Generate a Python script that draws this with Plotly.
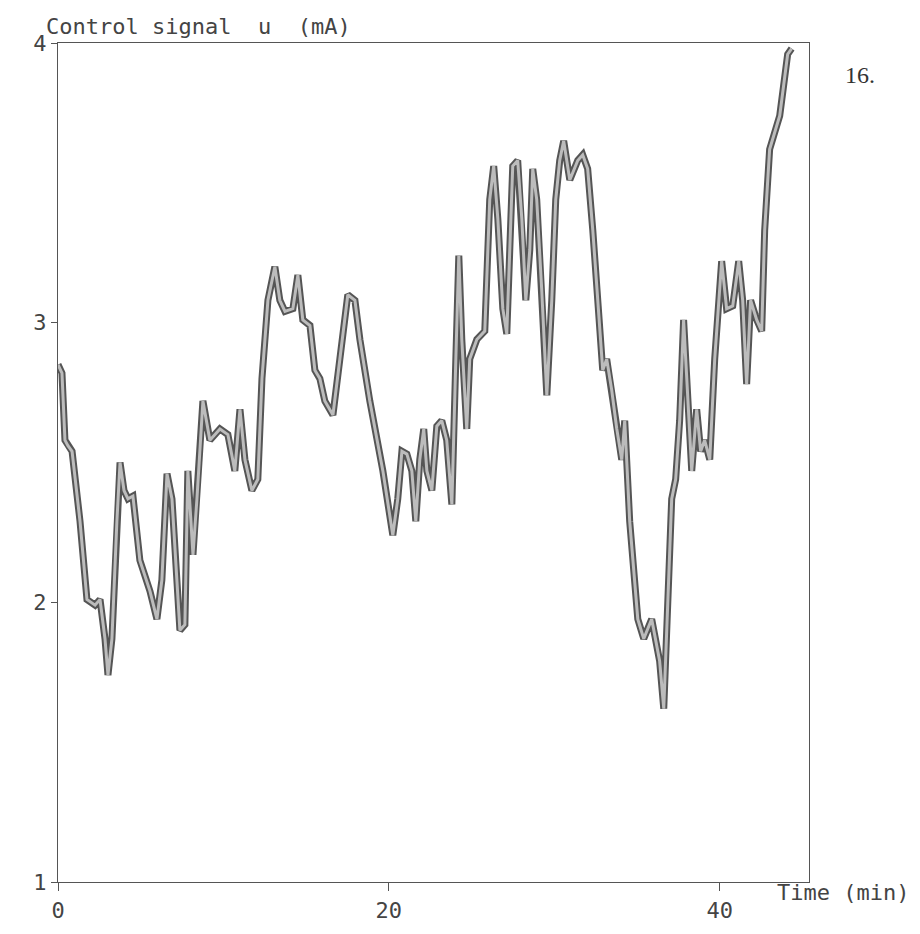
import plotly.graph_objects as go

# Time (min) and control signal u (mA)
time_min = [0.00, 0.24, 0.42, 0.60, 0.85, 1.33, 1.75, 2.24, 2.54, 2.84, 3.02, 3.26, 3.56, 3.75, 3.99,
            4.23, 4.53, 4.95, 5.56, 5.98, 6.28, 6.59, 6.89, 7.13, 7.37, 7.67, 7.85, 8.16, 8.40, 8.76,
            9.18, 9.79, 10.27, 10.69, 11.00, 11.30, 11.72, 12.08, 12.33, 12.69, 13.11, 13.41, 13.72,
            14.20, 14.50, 14.80, 15.23, 15.53, 15.83, 16.13, 16.62, 17.04, 17.52, 17.95, 18.25, 18.85,
            19.64, 20.24, 20.54, 20.79, 21.09, 21.39, 21.63, 21.87, 22.11, 22.30, 22.60, 22.90, 23.20,
            23.50, 23.81, 24.05, 24.23, 24.41, 24.59, 24.71, 24.89, 25.32, 25.80, 26.10, 26.34, 26.59,
            26.89, 27.13, 27.31, 27.49, 27.79, 28.04, 28.28, 28.52, 28.70, 28.94, 29.24, 29.55, 29.85,
            30.09, 30.33, 30.57, 30.94, 31.42, 31.72, 32.02, 32.33, 32.63, 32.93, 33.17, 33.47, 33.78,
            34.08, 34.26, 34.56, 35.05, 35.41, 35.89, 36.37, 36.62, 36.86, 37.10, 37.34, 37.58, 37.82,
            38.07, 38.31, 38.61, 38.85, 39.09, 39.40, 39.70, 40.12, 40.42, 40.79, 41.15, 41.39, 41.63,
            41.87, 42.24, 42.54, 42.72, 43.02, 43.63, 44.11, 44.35]
signal_ma = [2.85, 2.82, 2.58, 2.56, 2.54, 2.29, 2.01, 1.99, 2.01, 1.87, 1.74, 1.87, 2.29, 2.50, 2.40,
             2.37, 2.38, 2.15, 2.04, 1.94, 2.08, 2.46, 2.37, 2.15, 1.90, 1.92, 2.47, 2.17, 2.37, 2.72,
             2.58, 2.62, 2.60, 2.47, 2.69, 2.51, 2.40, 2.44, 2.80, 3.08, 3.20, 3.08, 3.04,
             3.05, 3.17, 3.01, 2.99, 2.83, 2.80, 2.72, 2.67, 2.87, 3.10, 3.08, 2.94, 2.72,
             2.47, 2.24, 2.37, 2.54, 2.53, 2.47, 2.29, 2.51, 2.62, 2.47, 2.40, 2.63, 2.65,
             2.58, 2.35, 2.87, 3.24, 2.94, 2.72, 2.62, 2.87, 2.94, 2.97, 3.44, 3.56, 3.37,
             3.05, 2.96, 3.26, 3.56, 3.58, 3.37, 3.08, 3.26, 3.55, 3.44, 3.12, 2.74, 3.08,
             3.44, 3.58, 3.65, 3.51, 3.58, 3.60, 3.55, 3.33, 3.08, 2.83, 2.87, 2.76, 2.62,
             2.51, 2.65, 2.29, 1.94, 1.87, 1.94, 1.79, 1.62, 2.01, 2.37, 2.44, 2.65, 3.01,
             2.72, 2.47, 2.69, 2.54, 2.58, 2.51, 2.87, 3.22, 3.05, 3.06, 3.22, 3.08, 2.78,
             3.08, 3.01, 2.97, 3.33, 3.62, 3.74, 3.96, 3.98]

x_ticks = [0, 20, 40]
y_ticks = [1, 2, 3, 4]

fig = go.Figure()
# dark outline
fig.add_trace(go.Scatter(x=time_min, y=signal_ma, mode="lines",
                         line=dict(color="#555555", width=7, shape="linear"),
                         hoverinfo="skip", showlegend=False))
# light core
fig.add_trace(go.Scatter(x=time_min, y=signal_ma, mode="lines",
                         line=dict(color="#bcbcbc", width=3, shape="linear"),
                         showlegend=False))

mono = "DejaVu Sans Mono"
tick_font = dict(family=mono, size=22, color="#444444")

fig.update_layout(
    width=920, height=934,
    margin=dict(l=50, r=119, t=35, b=60),
    paper_bgcolor="white", plot_bgcolor="white",
    showlegend=False,
    xaxis=dict(range=[0, 45.4], tickvals=x_ticks, ticktext=[str(v) for v in x_ticks],
               showgrid=False, zeroline=False, showline=True, mirror=True,
               linecolor="#555555", linewidth=1.2, ticks="outside", ticklen=8,
               tickcolor="#555555", tickfont=tick_font),
    yaxis=dict(range=[1, 4], tickvals=y_ticks, ticktext=[str(v) for v in y_ticks],
               showgrid=False, zeroline=False, showline=True, mirror=True,
               linecolor="#555555", linewidth=1.2, ticks="outside", ticklen=6,
               tickcolor="#555555", tickfont=tick_font),
)

fig.add_annotation(text="Control signal  u  (mA)", xref="paper", yref="paper",
                   x=0.0, y=1.0, xanchor="left", yanchor="bottom", xshift=-14, yshift=2,
                   showarrow=False, font=dict(family=mono, size=22, color="#444444"))
fig.add_annotation(text="Time (min)", xref="paper", yref="paper",
                   x=1.0, y=0.0, xanchor="left", yanchor="middle", xshift=-34, yshift=-10,
                   showarrow=False, font=dict(family=mono, size=22, color="#444444"))
fig.add_annotation(text="16.", xref="paper", yref="paper",
                   x=1.0, y=1.0, xanchor="left", yanchor="middle", xshift=34, yshift=-32,
                   showarrow=False, font=dict(family="Liberation Serif", size=24, color="#333333"))

fig.write_html("out.html")
